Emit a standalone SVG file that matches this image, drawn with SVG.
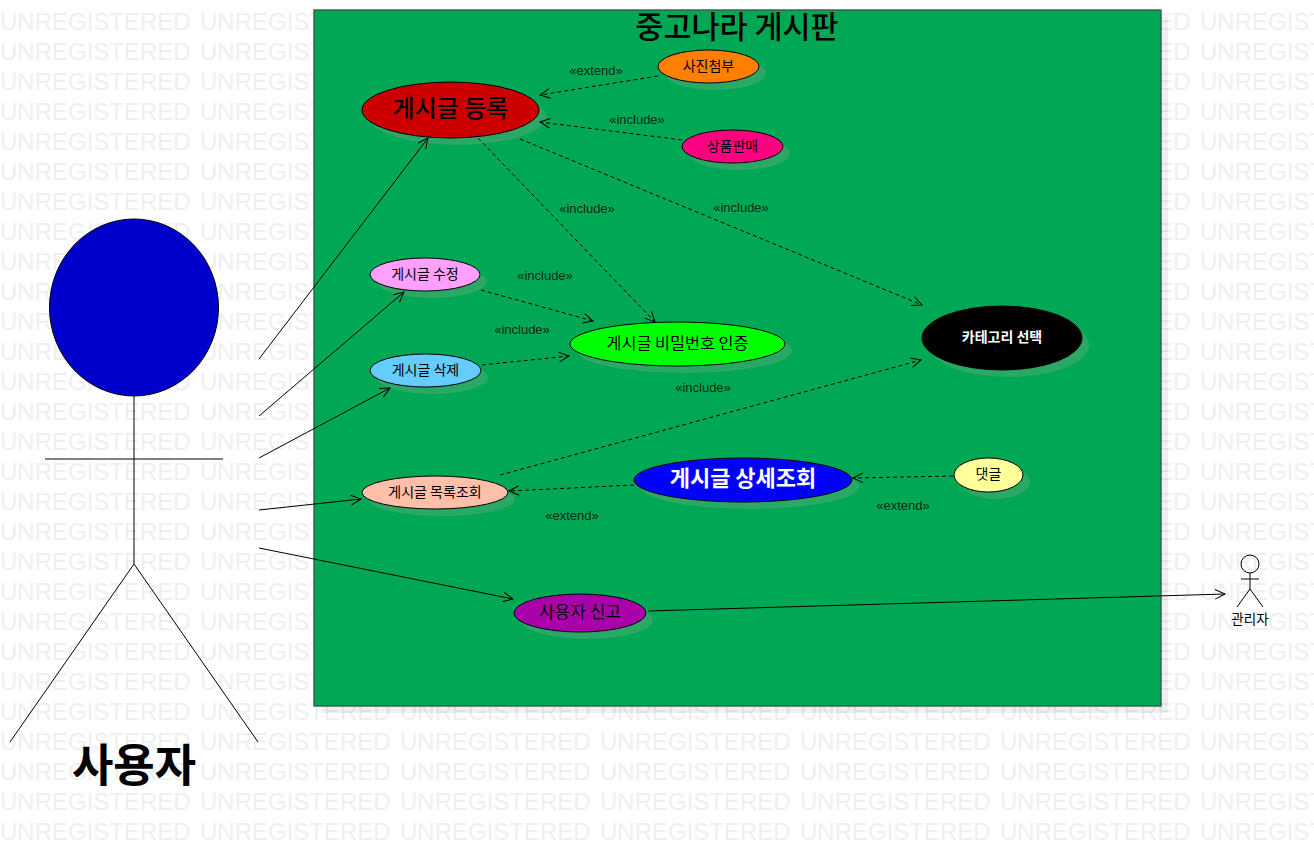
<svg xmlns="http://www.w3.org/2000/svg" xmlns:xlink="http://www.w3.org/1999/xlink" width="1314" height="866" viewBox="0 0 1314 866">
<style>
text{font-family:"Noto Sans CJK KR","Liberation Sans",sans-serif;text-anchor:middle;fill:#000}
.wm{font-family:"Liberation Sans",sans-serif;font-size:24px;fill:#efefef;text-anchor:start}
.uc{stroke:#000;stroke-width:1}
.sh{fill:#2aa866}
.act{fill:none;stroke:#000;stroke-width:1}
.lab{font-family:"Liberation Sans",sans-serif;font-size:13px;fill:#0a2a18}
.s{fill:none;stroke:#000;stroke-width:1;marker-end:url(#open)}
.d{fill:none;stroke:#000;stroke-width:1;stroke-dasharray:4 3;marker-end:url(#open)}
</style>
<defs>
<marker id="open" markerUnits="userSpaceOnUse" markerWidth="14" markerHeight="14" refX="11" refY="7" orient="auto"><path d="M1 2.2 L11 7 L1 11.8" fill="none" stroke="#000" stroke-width="1"/></marker>
<g id="wmr"><text class="wm" x="0">UNREGISTERED</text><text class="wm" x="200">UNREGISTERED</text><text class="wm" x="400">UNREGISTERED</text><text class="wm" x="600">UNREGISTERED</text><text class="wm" x="800">UNREGISTERED</text><text class="wm" x="1000">UNREGISTERED</text><text class="wm" x="1200">UNREGISTERED</text></g>
</defs>
<rect width="1314" height="866" fill="#fff"/>
<g id="watermark">
<use href="#wmr" y="30"/><use href="#wmr" y="60"/><use href="#wmr" y="90"/><use href="#wmr" y="120"/><use href="#wmr" y="150"/><use href="#wmr" y="180"/><use href="#wmr" y="210"/><use href="#wmr" y="240"/><use href="#wmr" y="270"/><use href="#wmr" y="300"/><use href="#wmr" y="330"/><use href="#wmr" y="360"/><use href="#wmr" y="390"/><use href="#wmr" y="420"/><use href="#wmr" y="450"/><use href="#wmr" y="480"/><use href="#wmr" y="510"/><use href="#wmr" y="540"/><use href="#wmr" y="570"/><use href="#wmr" y="600"/><use href="#wmr" y="630"/><use href="#wmr" y="660"/><use href="#wmr" y="690"/><use href="#wmr" y="720"/><use href="#wmr" y="750"/><use href="#wmr" y="780"/><use href="#wmr" y="810"/><use href="#wmr" y="840"/>
</g>
<g id="frame">
<rect x="321" y="17" width="847" height="696" fill="#000" fill-opacity=".06"/>
<rect x="314" y="10" width="847" height="696" fill="#00a856" stroke="#2f5f4c" stroke-width="1.4"/>
<text x="737" y="38" font-size="30.500" font-weight="500">중고나라 게시판</text>
</g>
<g id="actor-user">
<ellipse class="act" cx="134" cy="307.500" rx="84.500" ry="88.500" style="fill:#0000cc"/>
<path class="act" d="M134 396V564M45 459H223M10 742L134 564L258 742"/>
<text x="134" y="782" font-size="45" font-weight="700">사용자</text>
</g>
<g id="actor-admin">
<circle class="act" cx="1250" cy="564" r="9" style="fill:none"/>
<path class="act" d="M1250 573V589M1241 579H1259M1237 607L1250 589L1263 607"/>
<text x="1250" y="624" font-size="13.500">관리자</text>
</g>
<g id="uc-register"><ellipse class="sh" cx="457.500" cy="117" rx="88.500" ry="28"/><ellipse class="uc" cx="450.500" cy="110" rx="88.500" ry="28" fill="#cc0000"/><text x="450.500" y="117" font-size="24" font-weight="500">게시글 등록</text></g>
<g id="uc-photo"><ellipse class="sh" cx="715.500" cy="73.500" rx="50.500" ry="16.500"/><ellipse class="uc" cx="708.500" cy="66.500" rx="50.500" ry="16.500" fill="#ff8000"/><text x="708.500" y="71" font-size="14">사진첨부</text></g>
<g id="uc-sale"><ellipse class="sh" cx="739.500" cy="153.500" rx="50.500" ry="16.500"/><ellipse class="uc" cx="732.500" cy="146.500" rx="50.500" ry="16.500" fill="#ff0080"/><text x="732.500" y="151" font-size="14">상품판매</text></g>
<g id="uc-edit"><ellipse class="sh" cx="432" cy="281.500" rx="55" ry="16.500"/><ellipse class="uc" cx="425" cy="274.500" rx="55" ry="16.500" fill="#ff9fff"/><text x="425" y="279" font-size="14">게시글 수정</text></g>
<g id="uc-delete"><ellipse class="sh" cx="432.500" cy="377.500" rx="55.500" ry="16.500"/><ellipse class="uc" cx="425.500" cy="370.500" rx="55.500" ry="16.500" fill="#66ccff"/><text x="425.500" y="375" font-size="14">게시글 삭제</text></g>
<g id="uc-password"><ellipse class="sh" cx="684.500" cy="351" rx="107.500" ry="22"/><ellipse class="uc" cx="677.500" cy="344" rx="107.500" ry="22" fill="#00ff00"/><text x="677.500" y="349" font-size="16.300">게시글 비밀번호 인증</text></g>
<g id="uc-category"><ellipse class="sh" cx="1009" cy="345" rx="80" ry="32"/><ellipse class="uc" cx="1002" cy="338" rx="80" ry="32" fill="#000"/><text x="1002" y="342" font-size="14" font-weight="700" style="fill:#fff">카테고리 선택</text></g>
<g id="uc-list"><ellipse class="sh" cx="442" cy="499.500" rx="73" ry="16.500"/><ellipse class="uc" cx="435" cy="492.500" rx="73" ry="16.500" fill="#ffbfa8"/><text x="435" y="497" font-size="14">게시글 목록조회</text></g>
<g id="uc-detail"><ellipse class="sh" cx="750" cy="487" rx="109" ry="22"/><ellipse class="uc" cx="743" cy="480" rx="109" ry="22" fill="#0000ff"/><text x="743" y="486" font-size="22" font-weight="700" style="fill:#fff">게시글 상세조회</text></g>
<g id="uc-comment"><ellipse class="sh" cx="995.500" cy="482" rx="34.500" ry="17"/><ellipse class="uc" cx="988.500" cy="475" rx="34.500" ry="17" fill="#ffff99"/><text x="988.500" y="479" font-size="14">댓글</text></g>
<g id="uc-report"><ellipse class="sh" cx="587" cy="620" rx="66" ry="19"/><ellipse class="uc" cx="580" cy="613" rx="66" ry="19" fill="#aa00aa"/><text x="580" y="618" font-size="17">사용자 신고</text></g>
<g id="connectors">
<path class="s" d="M259 359L428 138"/>
<path class="s" d="M259 416L404 292"/>
<path class="s" d="M259 458L390 388"/>
<path class="s" d="M259 510L361 499"/>
<path class="s" d="M259 548L513 599"/>
<path class="s" d="M648 611L1225 594"/>
<path class="d" d="M658 76L540 95"/>
<path class="d" d="M682 140L540 122"/>
<path class="d" d="M478 138L655 322"/>
<path class="d" d="M520 139L922 305"/>
<path class="d" d="M481 290L593 321"/>
<path class="d" d="M482 365L569 356"/>
<path class="d" d="M500 475L921 360"/>
<path class="d" d="M634 485L509 491"/>
<path class="d" d="M953 476L853 478"/>
</g>
<g id="labels">
<text class="lab" x="596" y="75">«extend»</text>
<text class="lab" x="637" y="124">«include»</text>
<text class="lab" x="587" y="213">«include»</text>
<text class="lab" x="741" y="212">«include»</text>
<text class="lab" x="545" y="280">«include»</text>
<text class="lab" x="522" y="334">«include»</text>
<text class="lab" x="703" y="392">«include»</text>
<text class="lab" x="572" y="520">«extend»</text>
<text class="lab" x="903" y="510">«extend»</text>
</g>
</svg>
